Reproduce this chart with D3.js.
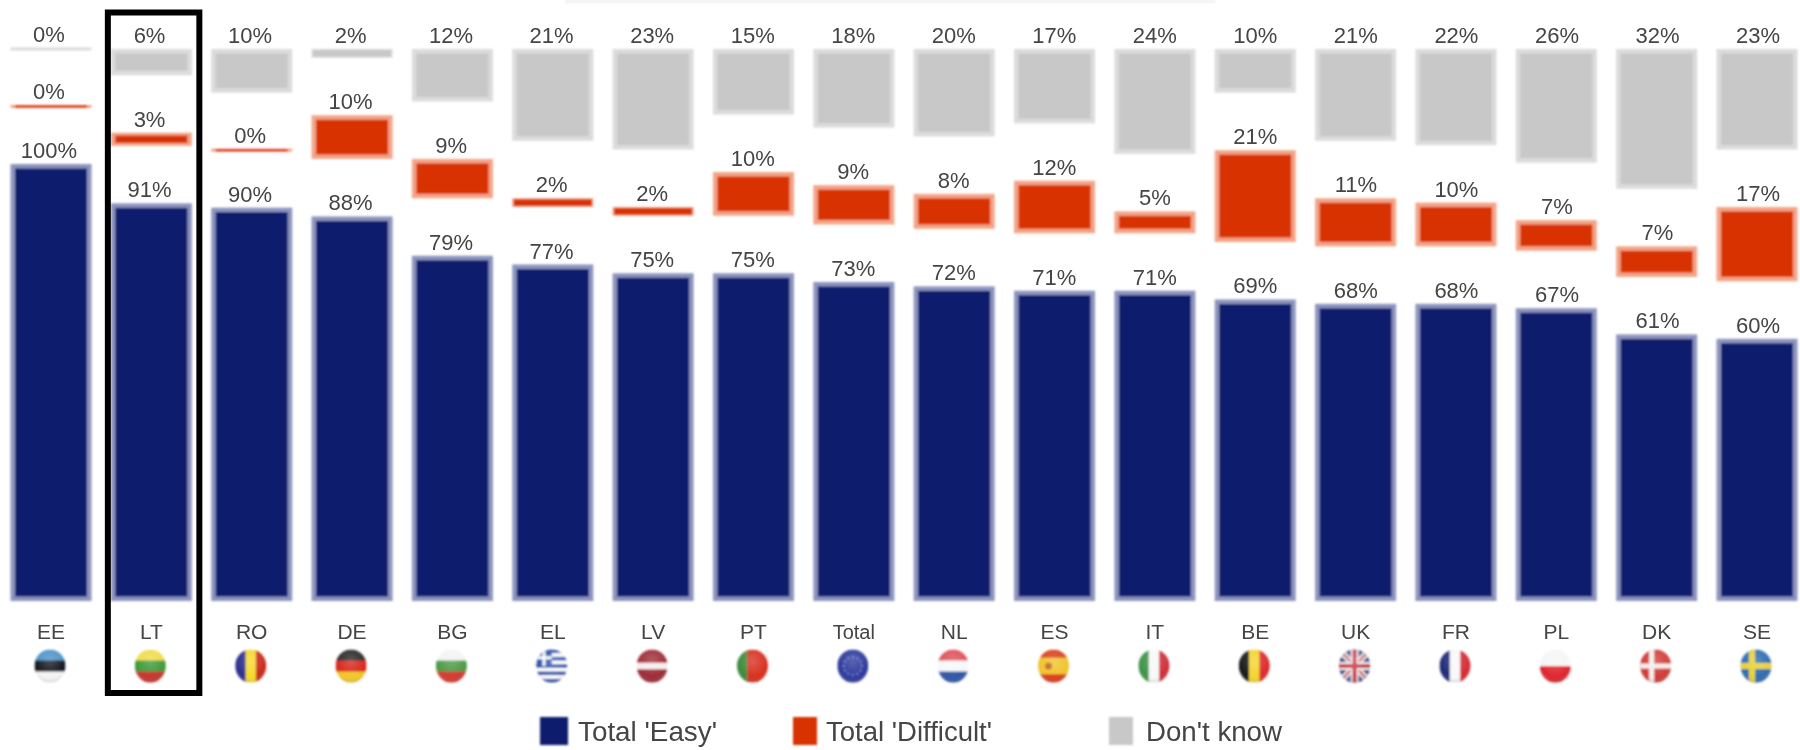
<!DOCTYPE html>
<html><head><meta charset="utf-8">
<script src="https://cdn.jsdelivr.net/npm/d3@7/dist/d3.min.js"></script>
<style>html,body{margin:0;padding:0;background:#fff;overflow:hidden}svg{display:block}text{font-family:"Liberation Sans",Arial,sans-serif}</style>
</head><body><svg id="c" width="1800" height="750"></svg>
<script>
const categories = ["EE","LT","RO","DE","BG","EL","LV","PT","Total","NL","ES","IT","BE","UK","FR","PL","DK","SE"];
const easy       = [100,91,90,88,79,77,75,75,73,72,71,71,69,68,68,67,61,60];
const difficult  = [0,3,0,10,9,2,2,10,9,8,12,5,21,11,10,7,7,17];
const dontKnow   = [0,6,10,2,12,21,23,15,18,20,17,24,10,21,22,26,32,23];
const highlighted = "LT";
const legendLabels = ["Total 'Easy'","Total 'Difficult'","Don't know"];
const stripeDir = {EE:"h",LT:"h",RO:"v",DE:"h",BG:"h",EL:"h",LV:"h",PT:"v",Total:"h",NL:"h",ES:"h",IT:"v",BE:"v",UK:"h",FR:"v",PL:"h",DK:"h",SE:"h"};
const stripes = {
  EE:["#4f93c9","#15181f","#f4f4f4"],LT:["#f0dc4a","#3d9a3a","#c8352f"],RO:["#2b2f8f","#f6d92b","#c92a1e"],
  DE:["#2a2a2a","#d8261c","#f2c62a"],BG:["#f4f4f4","#4c9a45","#d43a30"],
  EL:["#2f54a8","#fff","#2f54a8","#fff","#2f54a8","#fff","#2f54a8","#fff","#2f54a8"],
  LV:["#9e2c38","#9e2c38","#f7ecec","#9e2c38","#9e2c38"],PT:["#3f8a3c","#d8301f","#d8301f"],Total:["#2d3a9c"],
  NL:["#e0505a","#f8f8f8","#2f56a6"],ES:["#d9401c","#f2c32c","#f2c32c","#d9401c"],IT:["#3d9448","#f8f8f8","#d0303a"],
  BE:["#1a1a1a","#f4d42c","#dc2c2c"],UK:["#2e3f86"],FR:["#202a78","#f8f8f8","#d42c36"],PL:["#f6f6f6","#e0252f"],
  DK:["#cf3d38"],SE:["#2f6db0"]
};
const palette = {
  easy:{fill:"#101b6c",edge:"#8c94bf"},
  difficult:{fill:"#d83000",edge:"#f3a487"},
  dontKnow:{fill:"#c8c8c8",edge:"#dcdcdc"}
};

const svg = d3.select("#c");
const defs = svg.append("defs");
defs.append("filter").attr("id","soft").attr("x","-5%").attr("y","-5%").attr("width","110%").attr("height","110%")
  .append("feGaussianBlur").attr("stdDeviation",0.8);
defs.append("filter").attr("id","softText").attr("x","-5%").attr("y","-5%").attr("width","110%").attr("height","110%")
  .append("feGaussianBlur").attr("stdDeviation",0.55);
const gloss = defs.append("radialGradient").attr("id","gloss").attr("cx","50%").attr("cy","35%").attr("r","70%");
gloss.append("stop").attr("offset","0%").attr("stop-color","#fff").attr("stop-opacity",0.22);
gloss.append("stop").attr("offset","70%").attr("stop-color","#fff").attr("stop-opacity",0);
gloss.append("stop").attr("offset","100%").attr("stop-color","#000").attr("stop-opacity",0.28);

const x = d3.scalePoint().domain(categories).range([51,1757]);
const labelX = d3.scalePoint().domain(categories).range([49,1758]);
const barW = 81;
const base = 601, gap = 57.5;
const h = d3.scaleLinear().domain([0,100]).range([0,437]);

const rows = categories.map((c,i)=>({c,e:easy[i],d:difficult[i],k:dontKnow[i]}));
const marks = svg.append("g").attr("filter","url(#soft)");
const labels = svg.append("g").attr("filter","url(#softText)").attr("text-anchor","middle").attr("fill","#444");

function seg(key,val,bottom,c){
  const ht = h(val), top = bottom-ht, X = x(c)-barW/2, p = palette[key];
  const hh = Math.max(ht,3), yy = val===0 ? bottom-1.5 : top;
  marks.append("rect").attr("x",X).attr("y",yy).attr("width",barW).attr("height",hh).attr("fill",p.edge);
  const small = hh<12;
  const inset = small ? hh/8 : Math.min(4.5,hh/4.5);
  const side = small && val>0 ? 1.5 : 4.5;
  marks.append("rect").attr("x",X+side).attr("y",yy+inset).attr("width",barW-2*side).attr("height",hh-2*inset)
    .attr("fill",val===0 && key==="dontKnow" ? p.edge : p.fill);
  labels.append("text").attr("x",labelX(c)).attr("y",yy-6).attr("font-size",22).text(val+"%");
  return top;
}
rows.forEach(r=>{
  let b = base;
  b = seg("easy",r.e,b,r.c)-gap;
  b = seg("difficult",r.d,b,r.c)-gap;
  seg("dontKnow",r.k,b,r.c);
});

// faint remnant of a cropped heading at the very top
marks.append("rect").attr("x",565).attr("y",0).attr("width",650).attr("height",3).attr("fill","#f1f1f1");

// category labels
labels.selectAll("text.cat").data(categories).enter().append("text").attr("class","cat")
  .attr("x",d=>x(d)).attr("y",639).attr("font-size",d=>d==="Total"?20:21).text(d=>d);

// flags
const flagY = 666, rx = 15.5, ry = 16.5;
const flags = svg.append("g").attr("filter","url(#soft)");
categories.forEach((c,i)=>{
  const id = "f"+i, cx = x(c)-1;
  defs.append("clipPath").attr("id",id).append("ellipse").attr("cx",cx).attr("cy",flagY).attr("rx",rx).attr("ry",ry);
  const g = flags.append("g").attr("clip-path",`url(#${id})`);
  const colors = stripes[c], dir = stripeDir[c];
  const band = d3.scaleBand().domain(d3.range(colors.length)).range(dir==="h"?[flagY-ry,flagY+ry]:[cx-rx,cx+rx]);
  colors.forEach((col,j)=>{
    if(dir==="h") g.append("rect").attr("x",cx-rx).attr("width",2*rx).attr("y",band(j)).attr("height",band.bandwidth()+.5).attr("fill",col);
    else g.append("rect").attr("y",flagY-ry).attr("height",2*ry).attr("x",band(j)).attr("width",band.bandwidth()+.5).attr("fill",col);
  });
  const line=(x1,y1,x2,y2,col,w)=>g.append("line").attr("x1",x1).attr("y1",y1).attr("x2",x2).attr("y2",y2).attr("stroke",col).attr("stroke-width",w);
  if(c==="DK"){line(cx-rx,flagY,cx+rx,flagY,"#f6eeee",5);line(cx-4,flagY-ry,cx-4,flagY+ry,"#f6eeee",5);}
  if(c==="SE"){line(cx-rx,flagY,cx+rx,flagY,"#e8d22e",6);line(cx-4,flagY-ry,cx-4,flagY+ry,"#e8d22e",6);}
  if(c==="UK"){
    line(cx-rx,flagY-ry,cx+rx,flagY+ry,"#eee",6);line(cx-rx,flagY+ry,cx+rx,flagY-ry,"#eee",6);
    line(cx-rx,flagY-ry,cx+rx,flagY+ry,"#c9313f",2);line(cx-rx,flagY+ry,cx+rx,flagY-ry,"#c9313f",2);
    line(cx-rx,flagY,cx+rx,flagY,"#eee",8);line(cx,flagY-ry,cx,flagY+ry,"#eee",8);
    line(cx-rx,flagY,cx+rx,flagY,"#c9313f",4);line(cx,flagY-ry,cx,flagY+ry,"#c9313f",4);
  }
  if(c==="EL"){
    g.append("rect").attr("x",cx-rx).attr("y",flagY-ry).attr("width",rx).attr("height",ry).attr("fill","#2f54a8");
    line(cx-rx,flagY-ry/2,cx,flagY-ry/2,"#fff",3);line(cx-rx/2,flagY-ry,cx-rx/2,flagY,"#fff",3);
  }
  if(c==="Total"){
    d3.range(12).forEach(k=>{const a=k/12*2*Math.PI;
      g.append("circle").attr("cx",cx+9*Math.cos(a)).attr("cy",flagY+9*Math.sin(a)).attr("r",1).attr("fill","#7f8fe0");});
  }
  if(c==="ES") g.append("circle").attr("cx",cx-5).attr("cy",flagY).attr("r",3.5).attr("fill","#c5611c");
  g.append("ellipse").attr("cx",cx).attr("cy",flagY).attr("rx",rx).attr("ry",ry).attr("fill","url(#gloss)");
});

// highlight frame
const hb = x(highlighted);
svg.append("rect").attr("x",hb-43.5).attr("y",12.5).attr("width",91.5).attr("height",680.5)
  .attr("fill","none").attr("stroke","#000").attr("stroke-width",6);

// legend
const legendKeys = ["easy","difficult","dontKnow"];
const legendX = d3.scaleOrdinal().domain(legendKeys).range([540,793,1109]);
const legendFont = [27.5,27.5,27.5];
legendKeys.forEach((k,i)=>{
  marks.append("rect").attr("x",legendX(k)).attr("y",717).attr("width",k==="easy"?28:24).attr("height",28).attr("fill",palette[k].fill);
  labels.append("text").attr("text-anchor","start").attr("x",legendX(k)+(k==="easy"?38:k==="difficult"?33:37)).attr("y",741)
    .attr("font-size",legendFont[i]).attr("textLength",i===0?139:i===1?166:136).attr("lengthAdjust","spacingAndGlyphs").text(legendLabels[i]);
});
</script></body></html>
